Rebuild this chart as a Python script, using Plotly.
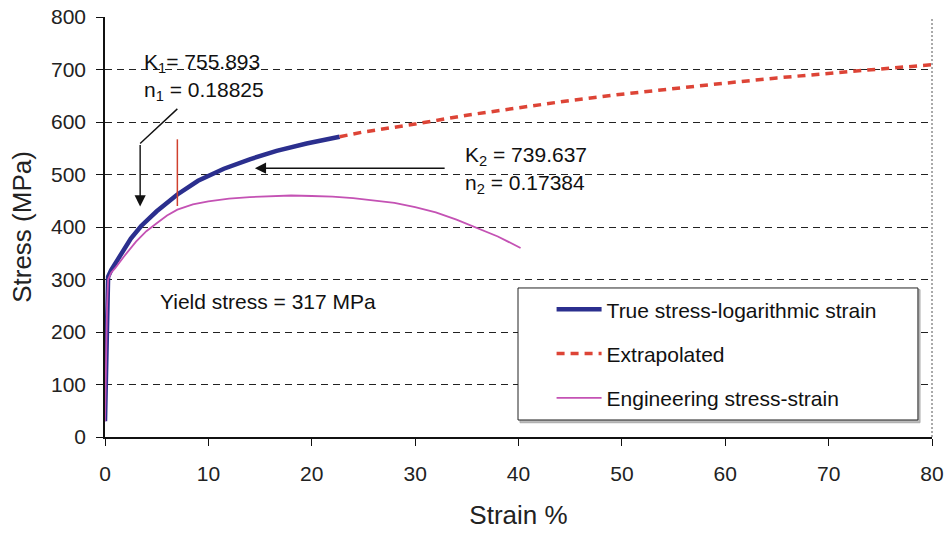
import plotly.graph_objects as go

# ---------------- data ----------------
true_strain = [0.0, 0.1, 0.2, 0.3, 0.6, 1.0, 1.8, 2.5, 3.5, 5.0, 7.0, 9.0, 11.5, 14.0, 16.6, 19.5, 22.7]
true_stress = [30, 150, 260, 305, 318, 330, 356, 378, 402, 430, 462, 488, 511, 529, 545, 559, 572]

extra_strain = [22.7, 25, 30, 35, 40, 45, 50, 55, 60, 65, 70, 75, 80]
extra_stress = [572, 581, 596, 613, 627, 641, 653, 664, 674, 684, 693, 701, 709]

eng_strain = [0.0, 0.1, 0.2, 0.3, 0.6, 1.0, 1.8, 3, 4, 5, 6, 7, 8.5, 10, 12, 14, 16, 18, 20,
              22, 24, 26, 28, 30, 32, 34, 36, 38, 40.2]
eng_stress = [30, 150, 250, 300, 313, 322, 343, 372, 392, 407, 422, 433, 443, 449, 454, 457, 459,
              460, 459, 458, 455, 451, 446, 438, 428, 414, 398, 382, 360]

series_names = ["True stress-logarithmic strain", "Extrapolated", "Engineering stress-strain"]

x_ticks = [0, 10, 20, 30, 40, 50, 60, 70, 80]
y_ticks = [0, 100, 200, 300, 400, 500, 600, 700, 800]

# marker line at the transition (strain %, stress from/to)
marker_x = [7.0, 7.0]
marker_y = [440, 567]

# annotation anchors (strain %, MPa)
k1_text = ["K<sub>1</sub>= 755.893", "n<sub>1</sub> = 0.18825"]
k1_pos = [(3.6, 712), (3.6, 659)]
k2_text = ["K<sub>2</sub> = 739.637", "n<sub>2</sub> = 0.17384"]
k2_pos = [(34.6, 535), (34.6, 482)]
yield_text = "Yield stress = 317 MPa"
yield_pos = (5.1, 258)
arrow1_path = [(7.0, 625), (3.4, 559), (3.4, 439)]
arrow2_path = [(33.0, 512), (14.5, 512)]

FONT = "Liberation Sans, Arial, sans-serif"
BLUE = "#2b2f8e"
RED = "#dd4436"
PINK = "#c452b4"

fig = go.Figure()

fig.add_trace(go.Scatter(x=true_strain, y=true_stress, mode="lines", name=series_names[0],
                         line=dict(color=BLUE, width=4.5), legendgroup="a"))
fig.add_trace(go.Scatter(x=extra_strain, y=extra_stress, mode="lines", name=series_names[1],
                         line=dict(color=RED, width=3.5, dash="8px,6px"), legendgroup="b"))
fig.add_trace(go.Scatter(x=eng_strain, y=eng_stress, mode="lines", name=series_names[2],
                         line=dict(color=PINK, width=1.8), legendgroup="c"))
fig.add_trace(go.Scatter(x=marker_x, y=marker_y, mode="lines", showlegend=False,
                         line=dict(color="#d0402e", width=1.5), hoverinfo="skip"))

annotations = []
for txt, (ax_, ay_) in zip(k1_text + k2_text, k1_pos + k2_pos):
    annotations.append(dict(x=ax_, y=ay_, xref="x", yref="y", text=txt, showarrow=False,
                            xanchor="left", yanchor="middle",
                            font=dict(family=FONT, size=21, color="#111")))
annotations.append(dict(x=yield_pos[0], y=yield_pos[1], xref="x", yref="y", text=yield_text,
                        showarrow=False, xanchor="left", yanchor="middle",
                        font=dict(family=FONT, size=21, color="#111")))
# arrows
annotations.append(dict(x=arrow1_path[2][0], y=arrow1_path[2][1], ax=arrow1_path[1][0],
                        ay=arrow1_path[1][1], xref="x", yref="y", axref="x", ayref="y",
                        text="", showarrow=True, arrowhead=2, arrowsize=1.6, arrowwidth=1.4,
                        arrowcolor="#111"))
annotations.append(dict(x=arrow2_path[1][0], y=arrow2_path[1][1], ax=arrow2_path[0][0],
                        ay=arrow2_path[0][1], xref="x", yref="y", axref="x", ayref="y",
                        text="", showarrow=True, arrowhead=2, arrowsize=1.6, arrowwidth=1.4,
                        arrowcolor="#111"))

shapes = [
    dict(type="line", xref="x", yref="y", x0=arrow1_path[0][0], y0=arrow1_path[0][1],
         x1=arrow1_path[1][0], y1=arrow1_path[1][1], line=dict(color="#111", width=1.4)),
    # right frame (dotted)
    dict(type="line", xref="x domain", yref="y domain", x0=1, x1=1, y0=0, y1=1,
         line=dict(color="#555", width=1, dash="2px,2px")),
    # legend box shadow + box
    dict(type="rect", xref="paper", yref="paper", x0=0.5018, x1=0.9855, y0=0.034, y1=0.351,
         line=dict(color="#aaa", width=1), fillcolor="#bbb", layer="above"),
    dict(type="rect", xref="paper", yref="paper", x0=0.4994, x1=0.983, y0=0.0405, y1=0.3548,
         line=dict(color="#222", width=1), fillcolor="white", layer="above"),
]

fig.update_layout(
    width=948, height=534,
    margin=dict(l=105, r=16, t=17, b=97, autoexpand=False),
    paper_bgcolor="white", plot_bgcolor="white",
    font=dict(family=FONT, size=21, color="#222"),
    showlegend=True,
    legend=dict(x=0.54, y=0.352, xanchor="left", yanchor="top", bgcolor="rgba(0,0,0,0)",
                borderwidth=0, font=dict(family=FONT, size=21, color="#111"),
                tracegroupgap=14, itemwidth=45, traceorder="grouped"),
    annotations=annotations,
    shapes=shapes,
    xaxis=dict(range=[0, 80], tickvals=x_ticks, showgrid=False, zeroline=False, automargin=False,
               showline=True, linecolor="#111", linewidth=1.5, ticks="outside", ticklen=7,
               tickcolor="#111", tickfont=dict(size=21, color="#222"), ticklabelstandoff=10,
               title=dict(text="Strain %", font=dict(size=26, color="#222"), standoff=22)),
    yaxis=dict(range=[0, 800], tickvals=y_ticks, showgrid=True, gridcolor="#222", gridwidth=1,
               griddash="7px,5px", zeroline=False, showline=True, linecolor="#111", automargin=False,
               linewidth=1.5, ticks="outside", ticklen=7, tickcolor="#111",
               tickfont=dict(size=21, color="#222"), ticklabelstandoff=6,
               title=dict(text="Stress (MPa)", font=dict(size=26, color="#222"), standoff=12)),
)

fig.write_html("out.html")
